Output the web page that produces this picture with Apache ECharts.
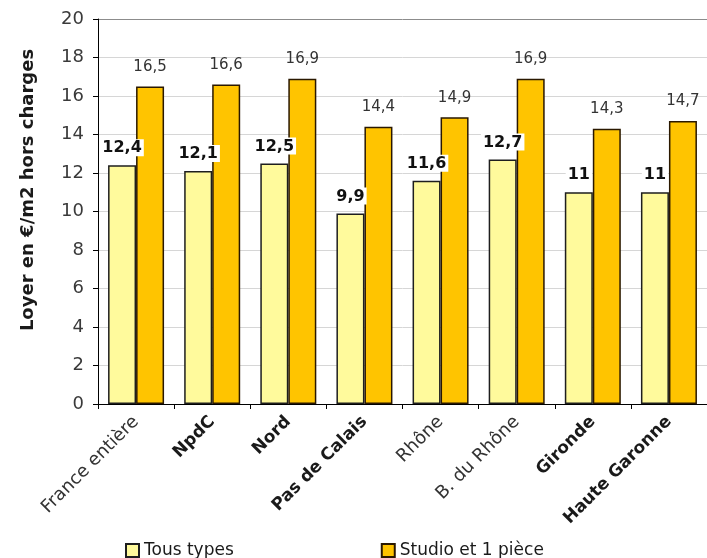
<!DOCTYPE html>
<html>
<head>
<meta charset="utf-8">
<script src="https://cdn.jsdelivr.net/npm/echarts@6/dist/echarts.min.js"></script>
<style>
  html, body { margin: 0; padding: 0; background: #fff; }
  #chart { width: 707px; height: 558px; }
</style>
</head>
<body>
<div id="chart"></div>
<script>
// Loyers moyens (€/m2 hors charges) par territoire
const categories = ['France entière', 'NpdC', 'Nord', 'Pas de Calais', 'Rhône', 'B. du Rhône', 'Gironde', 'Haute Garonne'];
const tousTypes = [12.4, 12.1, 12.5, 9.9, 11.6, 12.7, 11, 11];
const studio1Piece = [16.5, 16.6, 16.9, 14.4, 14.9, 16.9, 14.3, 14.7];
const yTicks = [0, 2, 4, 6, 8, 10, 12, 14, 16, 18, 20];
const yTitle = 'Loyer en €/m2 hors charges';

// territory names set in bold on the category axis
const boldNames = new Set(['NpdC', 'Nord', 'Pas de Calais', 'Gironde', 'Haute Garonne']);

const FONT = 'DejaVu Sans';
const fmt = v => String(v).replace('.', ',');

const chart = echarts.init(document.getElementById('chart'), null, { renderer: 'canvas' });

// grid lines: light grey, the top one darker like a frame
const splitColors = yTicks.map((t, i) => (i === yTicks.length - 1 ? '#8c8c8c' : '#d6d6d6'));

chart.setOption({
  backgroundColor: '#ffffff',
  animation: false,
  textStyle: { fontFamily: FONT },
  grid: { left: 98, right: 0, top: 19, bottom: 154, containLabel: false },
  graphic: [
    {
      type: 'text',
      x: 28,
      y: 190,
      rotation: Math.PI / 2,
      style: {
        text: yTitle,
        fontFamily: FONT,
        fontSize: 18,
        fontWeight: 'bold',
        fill: '#1a1a1a',
        align: 'center',
        verticalAlign: 'middle'
      }
    }
  ],
  legend: {
    left: 120,
    top: 537,
    itemWidth: 13,
    itemHeight: 13,
    itemGap: 147,
    icon: 'rect',
    textStyle: { fontFamily: FONT, fontSize: 17, color: '#1a1a1a' },
    data: ['Tous types', 'Studio et 1 pièce']
  },
  xAxis: {
    type: 'category',
    data: categories,
    axisLine: { lineStyle: { color: '#000', width: 1 } },
    axisTick: { show: true, length: 5, lineStyle: { color: '#000' } },
    axisLabel: {
      rotate: 45,
      margin: 15,
      interval: 0,
      fontFamily: FONT,
      fontSize: 18,
      color: '#1a1a1a',
      formatter: v => (boldNames.has(v) ? '{b|' + v + '}' : '{n|' + v + '}'),
      rich: {
        b: { fontFamily: FONT, fontSize: 17, fontWeight: 'bold', color: '#1a1a1a' },
        n: { fontFamily: FONT, fontSize: 18, color: '#333' }
      }
    },
    splitLine: { show: false }
  },
  yAxis: {
    type: 'value',
    min: 0,
    max: 20,
    interval: 2,
    axisLine: { show: true, lineStyle: { color: '#000', width: 1 } },
    axisTick: { show: true, length: 5, lineStyle: { color: '#000' } },
    axisLabel: { margin: 14, fontFamily: FONT, fontSize: 18, color: '#3a3a3a' },
    splitLine: { show: true, lineStyle: { color: splitColors, width: 1 } }
  },
  series: [
    {
      name: 'Tous types',
      type: 'bar',
      data: tousTypes,
      barWidth: 28,
      barGap: '0%',
      itemStyle: { color: '#FFFA9C', borderColor: '#1e1e1e', borderWidth: 1.5 },
      label: {
        show: true,
        position: 'top',
        distance: 9,
        formatter: p => fmt(p.value),
        fontFamily: FONT,
        fontSize: 16,
        fontWeight: 'bold',
        color: '#111',
        backgroundColor: '#ffffff',
        padding: [1, 2, 0, 2]
      }
    },
    {
      name: 'Studio et 1 pièce',
      type: 'bar',
      data: studio1Piece,
      barWidth: 28,
      itemStyle: { color: '#FFC400', borderColor: '#2a1800', borderWidth: 1.5 },
      label: {
        show: true,
        position: 'top',
        distance: 12,
        formatter: p => fmt(p.value),
        fontFamily: FONT,
        fontSize: 15,
        color: '#333'
      }
    }
  ]
});
</script>
</body>
</html>
